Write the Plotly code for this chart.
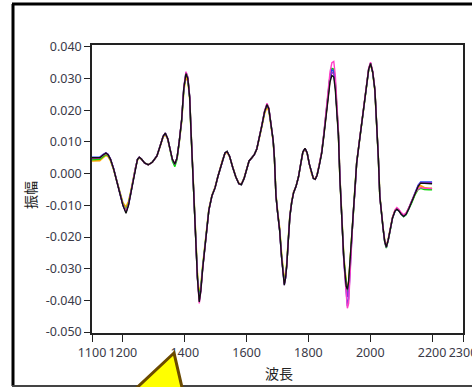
import plotly.graph_objects as go

wavelength = [1100,1110,1125,1135,1145,1152,1160,1170,1180,1190,
    1200,1210,1218,1225,1232,1240,1247,1253,1260,1270,
    1282,1295,1310,1322,1330,1337,1345,1352,1360,1368,
    1375,1382,1390,1397,1404,1410,1416,1420,1425,1430,
    1436,1441,1447,1452,1458,1465,1471,1478,1488,1498,
    1507,1514,1522,1530,1537,1545,1555,1565,1575,1583,
    1592,1600,1608,1617,1625,1633,1641,1649,1658,1666,
    1672,1680,1686,1690,1695,1700,1707,1713,1718,1722,
    1726,1730,1735,1740,1746,1752,1760,1768,1775,1782,
    1789,1796,1803,1810,1816,1822,1828,1835,1843,1850,
    1857,1864,1870,1876,1882,1887,1892,1897,1902,1906,
    1910,1914,1918,1922,1926,1930,1935,1940,1945,1951,
    1956,1964,1972,1980,1988,1995,2001,2008,2015,2021,
    2026,2031,2036,2042,2047,2052,2058,2065,2072,2080,
    2086,2093,2100,2108,2116,2125,2135,2145,2155,2163,
    2175,2190,2200]

s_black = [0.0050,0.0050,0.0050,0.0058,0.0065,0.0060,0.0045,0.0015,-0.0020,-0.0062,
    -0.0100,-0.0125,-0.0100,-0.0065,-0.0025,0.0015,0.0045,0.0052,0.0046,0.0034,
    0.0028,0.0036,0.0056,0.0092,0.0118,0.0128,0.0110,0.0080,0.0045,0.0030,
    0.0050,0.0100,0.0170,0.0270,0.0316,0.0300,0.0240,0.0140,0.0020,-0.0110,
    -0.0250,-0.0330,-0.0405,-0.0370,-0.0300,-0.0235,-0.0170,-0.0115,-0.0070,-0.0045,
    -0.0010,0.0015,0.0045,0.0065,0.0070,0.0055,0.0020,-0.0010,-0.0032,-0.0035,
    -0.0015,0.0017,0.0040,0.0050,0.0060,0.0078,0.0110,0.0150,0.0195,0.0218,
    0.0205,0.0150,0.0105,0.0050,-0.0070,-0.0120,-0.0180,-0.0262,-0.0320,-0.0352,
    -0.0330,-0.0290,-0.0210,-0.0135,-0.0090,-0.0060,-0.0040,-0.0010,0.0030,0.0068,
    0.0080,0.0065,0.0030,0.0000,-0.0015,-0.0018,-0.0005,0.0025,0.0065,0.0120,
    0.0185,0.0249,0.0290,0.0310,0.0305,0.0265,0.0200,0.0120,-0.0020,-0.0110,
    -0.0198,-0.0260,-0.0310,-0.0355,-0.0365,-0.0340,-0.0270,-0.0198,-0.0120,-0.0051,
    0.0033,0.0095,0.0160,0.0225,0.0285,0.0330,0.0348,0.0320,0.0264,0.0160,
    0.0054,-0.0072,-0.0130,-0.0177,-0.0215,-0.0232,-0.0210,-0.0170,-0.0140,-0.0118,
    -0.0112,-0.0118,-0.0128,-0.0135,-0.0128,-0.0110,-0.0085,-0.0060,-0.0040,-0.0030,
    -0.0030,-0.0030,-0.0032]

s_orange = [0.0040,0.0040,0.0041,0.0050,0.0058,0.0054,0.0040,0.0012,-0.0020,-0.0058,
    -0.0092,-0.0105,-0.0088,-0.0058,-0.0022,0.0015,0.0042,0.0050,0.0045,0.0034,
    0.0028,0.0036,0.0055,0.0090,0.0115,0.0124,0.0108,0.0078,0.0045,0.0030,
    0.0048,0.0098,0.0165,0.0262,0.0305,0.0292,0.0236,0.0140,0.0025,-0.0100,
    -0.0235,-0.0315,-0.0385,-0.0355,-0.0290,-0.0228,-0.0165,-0.0112,-0.0068,-0.0043,
    -0.0010,0.0015,0.0043,0.0062,0.0068,0.0053,0.0020,-0.0010,-0.0030,-0.0033,
    -0.0014,0.0017,0.0040,0.0050,0.0060,0.0077,0.0108,0.0146,0.0188,0.0210,
    0.0198,0.0146,0.0102,0.0048,-0.0065,-0.0115,-0.0172,-0.0250,-0.0305,-0.0335,
    -0.0318,-0.0282,-0.0205,-0.0132,-0.0088,-0.0058,-0.0040,-0.0010,0.0030,0.0066,
    0.0078,0.0064,0.0030,0.0000,-0.0014,-0.0017,-0.0004,0.0026,0.0066,0.0122,
    0.0190,0.0255,0.0300,0.0320,0.0318,0.0280,0.0210,0.0125,-0.0015,-0.0105,
    -0.0190,-0.0252,-0.0300,-0.0345,-0.0370,-0.0345,-0.0272,-0.0198,-0.0118,-0.0050,
    0.0033,0.0095,0.0160,0.0224,0.0283,0.0328,0.0345,0.0318,0.0262,0.0160,
    0.0055,-0.0070,-0.0128,-0.0175,-0.0212,-0.0228,-0.0207,-0.0168,-0.0138,-0.0116,
    -0.0110,-0.0116,-0.0126,-0.0132,-0.0126,-0.0108,-0.0084,-0.0060,-0.0042,-0.0038,
    -0.0044,-0.0046,-0.0046]

s_green = [0.0044,0.0044,0.0045,0.0053,0.0061,0.0057,0.0043,0.0014,-0.0020,-0.0060,
    -0.0096,-0.0114,-0.0094,-0.0062,-0.0024,0.0015,0.0044,0.0051,0.0046,0.0034,
    0.0028,0.0036,0.0056,0.0091,0.0117,0.0127,0.0110,0.0078,0.0040,0.0022,
    0.0045,0.0098,0.0168,0.0268,0.0318,0.0302,0.0240,0.0140,0.0022,-0.0105,
    -0.0245,-0.0325,-0.0395,-0.0362,-0.0296,-0.0232,-0.0168,-0.0114,-0.0070,-0.0045,
    -0.0010,0.0015,0.0045,0.0065,0.0070,0.0055,0.0020,-0.0010,-0.0032,-0.0035,
    -0.0015,0.0017,0.0040,0.0050,0.0060,0.0078,0.0110,0.0150,0.0195,0.0218,
    0.0205,0.0150,0.0105,0.0050,-0.0068,-0.0118,-0.0178,-0.0258,-0.0315,-0.0345,
    -0.0325,-0.0287,-0.0208,-0.0134,-0.0090,-0.0060,-0.0040,-0.0010,0.0030,0.0068,
    0.0080,0.0065,0.0030,0.0000,-0.0015,-0.0018,-0.0005,0.0027,0.0068,0.0125,
    0.0195,0.0262,0.0310,0.0332,0.0330,0.0288,0.0215,0.0128,-0.0015,-0.0108,
    -0.0195,-0.0258,-0.0308,-0.0352,-0.0378,-0.0352,-0.0275,-0.0200,-0.0120,-0.0051,
    0.0033,0.0095,0.0160,0.0225,0.0285,0.0330,0.0348,0.0320,0.0264,0.0160,
    0.0054,-0.0072,-0.0130,-0.0177,-0.0218,-0.0235,-0.0212,-0.0171,-0.0140,-0.0118,
    -0.0112,-0.0118,-0.0128,-0.0136,-0.0130,-0.0113,-0.0090,-0.0066,-0.0050,-0.0046,
    -0.0050,-0.0051,-0.0051]

s_blue = [0.0052,0.0052,0.0052,0.0060,0.0066,0.0061,0.0046,0.0016,-0.0020,-0.0062,
    -0.0100,-0.0121,-0.0099,-0.0065,-0.0025,0.0015,0.0045,0.0052,0.0046,0.0034,
    0.0028,0.0036,0.0056,0.0092,0.0118,0.0128,0.0110,0.0080,0.0045,0.0030,
    0.0050,0.0100,0.0170,0.0272,0.0320,0.0303,0.0242,0.0143,0.0024,-0.0108,
    -0.0248,-0.0328,-0.0400,-0.0366,-0.0298,-0.0234,-0.0169,-0.0115,-0.0070,-0.0045,
    -0.0010,0.0015,0.0045,0.0065,0.0070,0.0055,0.0020,-0.0010,-0.0032,-0.0035,
    -0.0015,0.0017,0.0040,0.0050,0.0060,0.0078,0.0110,0.0150,0.0195,0.0218,
    0.0205,0.0150,0.0105,0.0050,-0.0070,-0.0120,-0.0180,-0.0262,-0.0320,-0.0348,
    -0.0330,-0.0290,-0.0210,-0.0135,-0.0090,-0.0060,-0.0040,-0.0010,0.0030,0.0068,
    0.0080,0.0065,0.0030,0.0000,-0.0015,-0.0018,-0.0005,0.0027,0.0068,0.0125,
    0.0195,0.0262,0.0308,0.0328,0.0322,0.0282,0.0212,0.0128,-0.0012,-0.0108,
    -0.0200,-0.0265,-0.0320,-0.0378,-0.0418,-0.0395,-0.0300,-0.0205,-0.0121,-0.0051,
    0.0033,0.0095,0.0160,0.0225,0.0285,0.0330,0.0348,0.0320,0.0264,0.0160,
    0.0054,-0.0072,-0.0130,-0.0177,-0.0215,-0.0232,-0.0210,-0.0170,-0.0140,-0.0118,
    -0.0111,-0.0117,-0.0127,-0.0134,-0.0127,-0.0108,-0.0082,-0.0057,-0.0036,-0.0026,
    -0.0026,-0.0026,-0.0026]

s_purple = [0.0050,0.0050,0.0051,0.0059,0.0066,0.0061,0.0046,0.0015,-0.0020,-0.0062,
    -0.0101,-0.0122,-0.0099,-0.0065,-0.0025,0.0015,0.0045,0.0052,0.0046,0.0033,
    0.0028,0.0036,0.0056,0.0092,0.0118,0.0128,0.0110,0.0080,0.0045,0.0030,
    0.0050,0.0100,0.0170,0.0270,0.0316,0.0300,0.0240,0.0140,0.0020,-0.0110,
    -0.0250,-0.0330,-0.0402,-0.0368,-0.0300,-0.0235,-0.0170,-0.0115,-0.0070,-0.0045,
    -0.0010,0.0015,0.0045,0.0065,0.0070,0.0055,0.0020,-0.0010,-0.0032,-0.0035,
    -0.0015,0.0017,0.0040,0.0050,0.0060,0.0078,0.0110,0.0150,0.0195,0.0218,
    0.0205,0.0150,0.0105,0.0050,-0.0070,-0.0120,-0.0180,-0.0262,-0.0320,-0.0352,
    -0.0330,-0.0290,-0.0210,-0.0135,-0.0090,-0.0060,-0.0040,-0.0010,0.0030,0.0068,
    0.0080,0.0065,0.0030,0.0000,-0.0015,-0.0018,-0.0005,0.0025,0.0065,0.0120,
    0.0188,0.0254,0.0298,0.0320,0.0315,0.0272,0.0205,0.0122,-0.0018,-0.0110,
    -0.0198,-0.0262,-0.0315,-0.0365,-0.0390,-0.0362,-0.0280,-0.0200,-0.0120,-0.0051,
    0.0033,0.0095,0.0160,0.0225,0.0285,0.0330,0.0348,0.0320,0.0264,0.0160,
    0.0054,-0.0072,-0.0130,-0.0177,-0.0215,-0.0232,-0.0210,-0.0170,-0.0140,-0.0118,
    -0.0112,-0.0118,-0.0128,-0.0135,-0.0128,-0.0110,-0.0084,-0.0058,-0.0037,-0.0028,
    -0.0028,-0.0028,-0.0028]

s_pink = [0.0048,0.0048,0.0049,0.0057,0.0064,0.0059,0.0045,0.0015,-0.0020,-0.0061,
    -0.0098,-0.0118,-0.0097,-0.0064,-0.0025,0.0015,0.0045,0.0052,0.0046,0.0034,
    0.0028,0.0036,0.0056,0.0092,0.0118,0.0128,0.0110,0.0080,0.0045,0.0030,
    0.0050,0.0100,0.0172,0.0274,0.0322,0.0305,0.0244,0.0146,0.0028,-0.0108,
    -0.0250,-0.0332,-0.0410,-0.0372,-0.0302,-0.0236,-0.0170,-0.0115,-0.0070,-0.0045,
    -0.0010,0.0015,0.0045,0.0065,0.0070,0.0055,0.0020,-0.0010,-0.0032,-0.0035,
    -0.0015,0.0017,0.0040,0.0050,0.0060,0.0078,0.0111,0.0152,0.0198,0.0222,
    0.0208,0.0152,0.0106,0.0050,-0.0070,-0.0120,-0.0180,-0.0262,-0.0322,-0.0348,
    -0.0330,-0.0290,-0.0210,-0.0135,-0.0090,-0.0060,-0.0040,-0.0010,0.0030,0.0068,
    0.0080,0.0065,0.0030,0.0000,-0.0015,-0.0018,-0.0005,0.0028,0.0070,0.0128,
    0.0200,0.0270,0.0322,0.0350,0.0354,0.0310,0.0228,0.0135,-0.0010,-0.0108,
    -0.0200,-0.0268,-0.0325,-0.0385,-0.0425,-0.0410,-0.0310,-0.0210,-0.0122,-0.0050,
    0.0034,0.0097,0.0162,0.0227,0.0288,0.0334,0.0352,0.0324,0.0268,0.0162,
    0.0055,-0.0072,-0.0130,-0.0177,-0.0215,-0.0232,-0.0210,-0.0170,-0.0138,-0.0114,
    -0.0107,-0.0113,-0.0123,-0.0130,-0.0124,-0.0107,-0.0084,-0.0062,-0.0048,-0.0044,
    -0.0046,-0.0047,-0.0047]

series_names = ["orange", "green", "blue", "purple", "pink", "black"]
series_values = [s_orange, s_green, s_blue, s_purple, s_pink, s_black]
series_colors = ["#FFA500", "#00DD00", "#2244EE", "#8A2BE2", "#FF3EC8", "#111111"]
series_widths = [1.6, 1.5, 1.4, 1.2, 1.4, 1.4]

x_tick_vals = [1100, 1200, 1400, 1600, 1800, 2000, 2200, 2300]
x_tick_text = ["1100", "1200", "1400", "1600", "1800", "2000", "2200", "2300"]
y_tick_vals = [0.04, 0.03, 0.02, 0.01, 0.0, -0.01, -0.02, -0.03, -0.04, -0.05]
y_tick_text = ["0.040", "0.030", "0.020", "0.010", "0.000", "-0.010", "-0.020",
               "-0.030", "-0.040", "-0.050"]
x_title = "波長"
y_title = "振幅"

W, H = 472, 387
L, R, T, B = 92, 9, 45, 54
PW, PH = W - L - R, H - T - B


def px(x):
    return (x - L) / PW


def py(y):
    return (H - B - y) / PH


fig = go.Figure()
for name, vals, col, wd in zip(series_names, series_values, series_colors, series_widths):
    fig.add_trace(go.Scatter(x=wavelength, y=vals, mode="lines", name=name,
                             line=dict(color=col, width=wd), hoverinfo="skip"))

tick_font = dict(family="Noto Sans, DejaVu Sans, sans-serif", size=12.5, color="#3a3a48")
axis_common = dict(showgrid=False, zeroline=False, showline=True, mirror=True,
                   linecolor="#222222", linewidth=1.5, ticks="outside",
                   tickcolor="#222222", tickfont=tick_font, ticklabeloverflow="allow",
                   automargin=False, tickangle=0)

fig.update_xaxes(range=[1100, 2300], tickmode="array", tickvals=x_tick_vals,
                 ticktext=x_tick_text, ticklen=7, **axis_common)
fig.update_yaxes(range=[-0.0503, 0.0406], tickmode="array", tickvals=y_tick_vals,
                 ticktext=y_tick_text, ticklen=6, **axis_common)

shapes = [
    dict(type="line", xref="paper", yref="paper", x0=px(13), y0=py(4), x1=px(13), y1=py(386),
         line=dict(color="#000000", width=3)),
    dict(type="line", xref="paper", yref="paper", x0=px(12), y0=py(4), x1=px(490), y1=py(4),
         line=dict(color="#000000", width=3)),
    dict(type="line", xref="paper", yref="paper", x0=px(12), y0=py(386), x1=px(490), y1=py(386),
         line=dict(color="#444444", width=2)),
    dict(type="path", xref="paper", yref="paper",
         path="M {:.4f},{:.4f} L {:.4f},{:.4f} L {:.4f},{:.4f} Z".format(
             px(174), py(353), px(128), py(396), px(184), py(396)),
         fillcolor="#FFFF00", line=dict(color="#6B4A00", width=3)),
]

annotations = [
    dict(text=x_title, xref="paper", yref="paper", x=px(279), y=py(373), showarrow=False,
         xanchor="center", yanchor="middle",
         font=dict(family="Noto Sans CJK JP", size=14, color="#222222")),
    dict(text=y_title, xref="paper", yref="paper", x=px(30), y=py(195), showarrow=False,
         xanchor="center", yanchor="middle", textangle=-90,
         font=dict(family="Noto Sans CJK JP", size=14, color="#222222")),
]

fig.update_layout(width=W, height=H, margin=dict(l=L, r=R, t=T, b=B, pad=0, autoexpand=False),
                  paper_bgcolor="white", plot_bgcolor="white", showlegend=False,
                  shapes=shapes, annotations=annotations)

fig.write_html("out.html", config={"displayModeBar": False},
               post_script="document.body.style.margin='0';document.body.style.overflow='hidden';")
